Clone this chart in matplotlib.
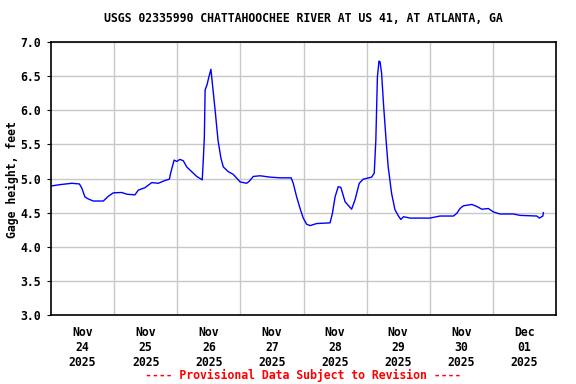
import matplotlib
matplotlib.use("Agg")
import matplotlib.pyplot as plt
import numpy as np
import pandas as pd

title = "USGS 02335990 CHATTAHOOCHEE RIVER AT US 41, AT ATLANTA, GA"
ylabel = "Gage height, feet"
footer = "---- Provisional Data Subject to Revision ----"
start = pd.Timestamp("2025-11-24 00:00")

hours = [0, 3.4, 7.9, 10.8, 11.7, 12.9, 14.2, 16.1, 19.9, 21.8, 23.7, 26.9, 28.8,
         31.9, 33.2, 35.7, 38.3, 40.8, 43.3, 45.0, 45.5, 46.8, 47.8, 49.0, 50.3,
         51.6, 53.5, 55.4, 57.5, 57.9, 58.3, 58.6, 59.3, 60.1, 60.8, 61.6, 62.4,
         63.5, 64.6, 65.5, 67.4, 69.3, 71.9, 74.4, 75.4, 76.9, 79.5, 83.3, 87.1,
         91.3, 92.1, 93.4, 94.7, 95.9, 97.2, 98.5, 101.0, 106.1, 107.0, 108.0,
         109.2, 110.2, 111.8, 114.3, 115.6, 117.2, 118.7, 121.9, 122.9, 123.5,
         124.1, 124.7, 125.1, 125.7, 126.4, 127.4, 128.2, 129.5, 130.8, 132.1,
         133.0, 134.0, 136.5, 144.1, 147.9, 153.0, 154.3, 155.5, 156.8, 160.0,
         161.9, 163.8, 166.3, 168.2, 170.7, 175.8, 178.3, 184.7, 185.7, 187.0, 187.2]
gage = [4.89, 4.91, 4.93, 4.92, 4.86, 4.73, 4.70, 4.67, 4.67, 4.74, 4.79, 4.795, 4.77,
        4.76, 4.83, 4.865, 4.94, 4.93, 4.97, 4.99, 5.08, 5.27, 5.25, 5.28, 5.26,
        5.17, 5.10, 5.03, 4.98, 5.27, 5.60, 6.30, 6.37, 6.50, 6.60, 6.30, 6.00,
        5.56, 5.30, 5.17, 5.10, 5.06, 4.95, 4.93, 4.96, 5.03, 5.04, 5.02, 5.01,
        5.01, 4.93, 4.73, 4.56, 4.42, 4.33, 4.31, 4.34, 4.35, 4.49, 4.73,
        4.88, 4.87, 4.66, 4.55, 4.69, 4.93, 4.99, 5.02, 5.08, 5.56,
        6.49, 6.72, 6.71, 6.54, 6.10, 5.56, 5.17, 4.78, 4.54, 4.45,
        4.40, 4.44, 4.42, 4.42, 4.45, 4.45, 4.49, 4.56, 4.60, 4.62,
        4.59, 4.55, 4.56, 4.51, 4.48, 4.48, 4.46, 4.45, 4.42, 4.45, 4.50]
yticks = [3.0, 3.5, 4.0, 4.5, 5.0, 5.5, 6.0, 6.5, 7.0]
day_labels = ["Nov\n24\n2025", "Nov\n25\n2025", "Nov\n26\n2025", "Nov\n27\n2025",
              "Nov\n28\n2025", "Nov\n29\n2025", "Nov\n30\n2025", "Dec\n01\n2025"]

times = [start + pd.Timedelta(hours=h) for h in hours]
font = dict(family="DejaVu Sans Mono", weight="bold", size=8.3)

fig = plt.figure(figsize=(5.76, 3.84), dpi=100)
ax = fig.add_axes([51/576, 1-315/384, 505/576, 273/384])
ax.plot(times, gage, color="#0000ff", lw=1.0)

ax.set_xlim(start, start + pd.Timedelta(days=8))
ax.set_ylim(3.0, 7.0)
ax.set_yticks(yticks)
ax.set_yticklabels([f"{v:.1f}" for v in yticks], fontdict=font)

midn = [start + pd.Timedelta(days=d) for d in range(1, 8)]
noon = [start + pd.Timedelta(days=d, hours=12) for d in range(8)]
ax.set_xticks(midn)
ax.set_xticklabels([])
ax.set_xticks(noon, minor=True)
ax.set_xticklabels(day_labels, minor=True, fontdict=font, linespacing=1.2)
ax.tick_params(axis="x", which="both", length=0, pad=8)
ax.tick_params(axis="y", length=3, direction="out", pad=4)
ax.grid(True, which="major", color="#c8c8c8", lw=1)
for s in ax.spines.values():
    s.set_linewidth(1.2)
    s.set_color("black")

fig.text(12/576, 1-180/384, ylabel, rotation=90, ha="center", va="center", **font)
fig.text((51+556)/2/576, 1-19/384, title, ha="center", va="center", **font)
fig.text((51+556)/2/576, 1-375/384, footer, ha="center", va="center", color="red", **font)

fig.savefig("out.png", dpi=100)
